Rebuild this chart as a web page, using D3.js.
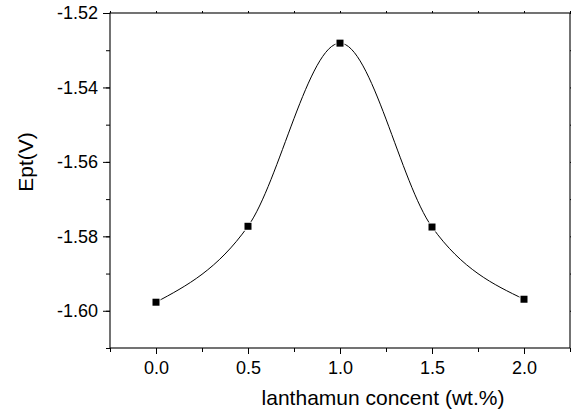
<!DOCTYPE html>
<html>
<head>
<meta charset="utf-8">
<script src="https://cdn.jsdelivr.net/npm/d3@7"></script>
<style>
  body { margin: 0; background: #fff; }
  svg { font-family: "Liberation Sans", Arial, sans-serif; }
</style>
</head>
<body>
<script>
const concent = [0.0, 0.5, 1.0, 1.5, 2.0]
const ept = [-1.5977, -1.5773, -1.5281, -1.5775, -1.5969]
const xTicks = [0.0, 0.5, 1.0, 1.5, 2.0]
const yTicks = [-1.60, -1.58, -1.56, -1.54, -1.52]

const width = 571, height = 416
const m = { left: 110, right: 570, top: 13, bottom: 348 }

const svg = d3.select("body").append("svg")
    .attr("width", width)
    .attr("height", height)

const x = d3.scaleLinear().domain([-0.25, 2.25]).range([m.left, m.right])
const y = d3.scaleLinear().domain([-1.61, -1.52]).range([m.bottom, m.top])

const xMinor = d3.range(-0.25, 2.26, 0.25)
const yMinor = d3.range(-1.61, -1.519, 0.01)

// hyphen instead of unicode minus, like the original
const fmtY = d => d.toFixed(2)

function style(g) {
    g.select(".domain").remove()
    g.selectAll("line").attr("stroke", "#000").attr("stroke-width", 1)
    g.selectAll("text").attr("fill", "#000").attr("font-size", 18)
}

// minor ticks
svg.append("g")
    .attr("transform", `translate(0,${m.bottom})`)
    .call(d3.axisBottom(x).tickValues(xMinor).tickSize(4).tickFormat(""))
    .call(style)
svg.append("g")
    .attr("transform", `translate(${m.left},0)`)
    .call(d3.axisLeft(y).tickValues(yMinor).tickSize(4).tickFormat(""))
    .call(style)
svg.append("g")
    .attr("transform", `translate(0,${m.top})`)
    .call(d3.axisTop(x).tickValues(xMinor).tickSize(2).tickFormat(""))
    .call(style)
svg.append("g")
    .attr("transform", `translate(${m.right},0)`)
    .call(d3.axisRight(y).tickValues(yMinor).tickSize(2).tickFormat(""))
    .call(style)

// major ticks + labels
svg.append("g")
    .attr("transform", `translate(0,${m.bottom})`)
    .call(d3.axisBottom(x).tickValues(xTicks).tickSize(6).tickPadding(7).tickFormat(d => d.toFixed(1)))
    .call(style)
svg.append("g")
    .attr("transform", `translate(${m.left},0)`)
    .call(d3.axisLeft(y).tickValues(yTicks).tickSize(7).tickPadding(5).tickFormat(fmtY))
    .call(style)

// frame
svg.append("rect")
    .attr("x", m.left).attr("y", m.top)
    .attr("width", m.right - m.left).attr("height", m.bottom - m.top)
    .attr("fill", "none").attr("stroke", "#000").attr("stroke-width", 1.1)

const pts = concent.map((c, i) => [x(c), y(ept[i])])

const line = d3.line().curve(d3.curveMonotoneX)
svg.append("path")
    .attr("d", line(pts))
    .attr("fill", "none")
    .attr("stroke", "#000")
    .attr("stroke-width", 1)

svg.append("g").selectAll("rect")
    .data(pts)
    .join("rect")
    .attr("x", d => d[0] - 3.5)
    .attr("y", d => d[1] - 3.5)
    .attr("width", 7).attr("height", 7)
    .attr("fill", "#000")
    .attr("stroke", "#fff")
    .attr("stroke-width", 2)
    .attr("paint-order", "stroke")

svg.append("text")
    .attr("x", 383).attr("y", 405)
    .attr("text-anchor", "middle")
    .attr("font-size", 21)
    .text("lanthamun concent (wt.%)")

svg.append("text")
    .attr("transform", "translate(33,162) rotate(-90)")
    .attr("text-anchor", "middle")
    .attr("font-size", 21)
    .text("Ept(V)")
</script>
</body>
</html>
